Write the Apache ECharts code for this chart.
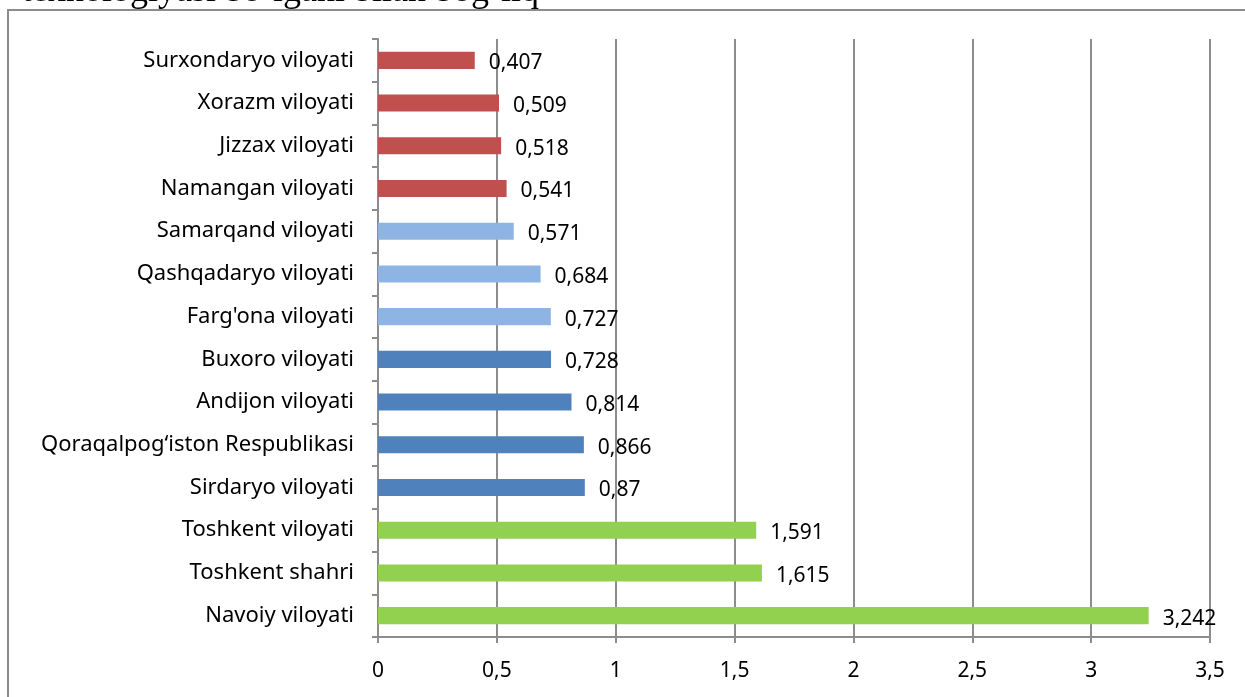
<!DOCTYPE html>
<html>
<head>
<meta charset="utf-8">
<script src="https://cdn.jsdelivr.net/npm/echarts@6/dist/echarts.min.js"></script>
<style>
  html, body { margin: 0; padding: 0; background: #fff; }
  #chart { width: 1245px; height: 697px; }
</style>
</head>
<body>
<div id="chart"></div>
<script>
const regions = [
  'Surxondaryo viloyati', 'Xorazm viloyati', 'Jizzax viloyati', 'Namangan viloyati',
  'Samarqand viloyati', 'Qashqadaryo viloyati', "Farg'ona viloyati", 'Buxoro viloyati',
  'Andijon viloyati', 'Qoraqalpog‘iston Respublikasi', 'Sirdaryo viloyati',
  'Toshkent viloyati', 'Toshkent shahri', 'Navoiy viloyati'
];
const values = [0.407, 0.509, 0.518, 0.541, 0.571, 0.684, 0.727, 0.728, 0.814, 0.866, 0.87, 1.591, 1.615, 3.242];
const groupOf = [0, 0, 0, 0, 1, 1, 1, 2, 2, 2, 2, 3, 3, 3];
const groupColors = ['#C0504D', '#8EB4E3', '#4F81BD', '#92D050'];

const fmt = v => String(v).replace('.', ',');
const font = "'Noto Sans', 'Open Sans', sans-serif";

const chart = echarts.init(document.getElementById('chart'));
chart.setOption({
  animation: false,
  backgroundColor: '#fff',
  graphic: [
    {
      type: 'rect',
      shape: { x: 8, y: 10, width: 1300, height: 800 },
      style: { fill: 'none', stroke: '#8c8c8c', lineWidth: 2 },
      silent: true
    },
    {
      type: 'text',
      left: 22,
      top: -26,
      style: {
        text: 'texnologiyasi bo‘lgani bilan bog‘liq',
        font: "36px 'Liberation Serif', serif",
        fill: '#000'
      }
    }
  ],
  grid: { left: 378, right: 35, top: 39, bottom: 60 },
  xAxis: {
    type: 'value',
    min: 0,
    max: 3.5,
    interval: 0.5,
    axisLine: { show: true, lineStyle: { color: '#8c8c8c', width: 2 } },
    axisTick: { show: true, length: 6, lineStyle: { color: '#8c8c8c', width: 2 } },
    splitLine: { show: true, lineStyle: { color: '#8c8c8c', width: 2 } },
    axisLabel: {
      color: '#000',
      fontFamily: font,
      fontSize: 21,
      margin: 24,
      formatter: v => fmt(v)
    }
  },
  yAxis: {
    type: 'category',
    inverse: true,
    data: regions,
    axisLine: { show: true, lineStyle: { color: '#8c8c8c', width: 2 } },
    axisTick: { show: true, length: 6, lineStyle: { color: '#8c8c8c', width: 2 } },
    axisLabel: {
      color: '#000',
      fontFamily: font,
      fontSize: 22,
      margin: 24
    }
  },
  series: [{
    type: 'bar',
    data: values,
    barWidth: '40%',
    itemStyle: {
      color: p => groupColors[groupOf[p.dataIndex]]
    },
    label: {
      show: true,
      position: 'right',
      distance: 14,
      offset: [0, 3],
      color: '#000',
      fontFamily: font,
      fontSize: 21,
      formatter: p => fmt(p.value)
    }
  }]
});
</script>
</body>
</html>
